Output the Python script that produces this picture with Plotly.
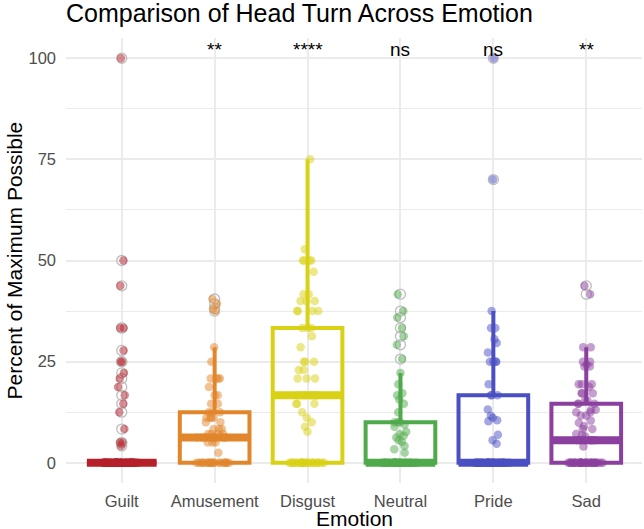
import numpy as np
import plotly.graph_objects as go

categories = ["Guilt", "Amusement", "Disgust", "Neutral", "Pride", "Sad"]
significance = ["", "**", "****", "ns", "ns", "**"]
colors = ["#B5202A", "#E2862C", "#D9D116", "#4FAA4C", "#4A4FC2", "#8B3F9E"]

# frequency tables (value, count)
guilt_values = [0, 4.17, 5, 8.33, 12.5, 14.58, 16.67, 18.75, 20.83, 22.22, 25, 27.78, 33.33, 43.75, 50, 100]
guilt_counts = [58, 1, 2, 1, 1, 1, 1, 1, 1, 1, 2, 1, 2, 1, 1, 1]

amusement_values = [0, 2.5, 5, 6.25, 7.14, 8.33, 10, 11.11, 12.5, 14.58, 16.67, 18.75, 20.83, 25, 28.57, 37.5, 38.1, 39.29, 40.48]
amusement_counts = [20, 1, 3, 8, 4, 3, 2, 4, 3, 2, 2, 1, 4, 1, 1, 1, 1, 1, 1]

disgust_values = [0, 7.69, 8.93, 10, 11.11, 12.5, 14.58, 16.67, 20.83, 22.92, 25, 28.57, 31.25, 33.33, 37.5, 40, 41.67, 47.22, 50, 52.78, 75]
disgust_counts = [24, 1, 1, 1, 1, 1, 3, 7, 3, 2, 3, 1, 1, 3, 4, 3, 2, 1, 4, 1, 1]

neutral_values = [0, 2.5, 3.33, 4.17, 5.21, 5.56, 6.25, 6.67, 7.14, 7.69, 8.93, 9.38, 10, 12.5, 14.58, 15.63, 16.67, 17.19, 19.44, 22.22, 25.64, 29.17, 31.25, 33.33, 35.9, 37.5, 41.67]
neutral_counts = [30, 1, 1, 1, 1, 1, 1, 1, 1, 1, 1, 1, 3, 1, 1, 1, 1, 1, 1, 1, 1, 1, 1, 1, 1, 1, 1]

pride_values = [0, 4.69, 5.56, 6.94, 10.29, 10.53, 11.11, 11.63, 13.16, 16.67, 19.44, 25, 27.27, 29.63, 30.56, 33.33, 37.5, 70, 100]
pride_counts = [36, 1, 1, 1, 1, 1, 1, 1, 1, 3, 1, 4, 1, 1, 1, 2, 1, 1, 1]

sad_values = [0, 4, 5.56, 6.5, 6.94, 7.14, 8.33, 9, 9.9, 10.42, 11.67, 12.5, 13.1, 14.58, 15.38, 17.19, 18.75, 19.44, 23.81, 24.24, 25, 28.57, 41.67, 43.75]
sad_counts = [34, 1, 6, 1, 1, 1, 2, 1, 1, 1, 2, 2, 2, 3, 2, 3, 1, 3, 2, 1, 2, 2, 1, 1]

tables = [
    (guilt_values, guilt_counts),
    (amusement_values, amusement_counts),
    (disgust_values, disgust_counts),
    (neutral_values, neutral_counts),
    (pride_values, pride_counts),
    (sad_values, sad_counts),
]

y_ticks = [0, 25, 50, 75, 100]
y_minor = [12.5, 37.5, 62.5, 87.5]

FONT = "Liberation Sans, Arial, Helvetica, sans-serif"

FIG_W, FIG_H = 644, 529
PLOT_L, PLOT_R, PLOT_T, PLOT_B = 66, 642, 38, 483
PLOT_W = PLOT_R - PLOT_L
PLOT_H = PLOT_B - PLOT_T


def rgba(hex_color, a):
    h = hex_color.lstrip("#")
    r, g, b = int(h[0:2], 16), int(h[2:4], 16), int(h[4:6], 16)
    return f"rgba({r},{g},{b},{a})"


fig = go.Figure()
BOX_W = 0.75

# boxes with grey open outliers
for i, cat in enumerate(categories):
    vals, cnts = tables[i]
    y = np.repeat(vals, cnts)
    fig.add_trace(go.Box(
        x=[cat] * len(y), y=y, width=BOX_W,
        boxpoints="outliers", jitter=0, pointpos=0,
        line=dict(color=colors[i], width=4),
        fillcolor="rgba(0,0,0,0)", whiskerwidth=0,
        marker=dict(symbol="circle-open", size=10, color="#BDBDBD",
                    line=dict(width=1.3, color="#BDBDBD")),
        quartilemethod="linear", showlegend=False, hoverinfo="skip",
    ))
    med = float(np.median(y))
    fig.add_shape(type="line", xref="x", yref="y",
                  x0=i - BOX_W / 2, x1=i + BOX_W / 2, y0=med, y1=med,
                  line=dict(color=colors[i], width=8), layer="between")

# jittered points on top
for i, cat in enumerate(categories):
    vals, cnts = tables[i]
    y = np.repeat(vals, cnts)
    fig.add_trace(go.Box(
        x=[cat] * len(y), y=y, width=0.4,
        boxpoints="all", jitter=1, pointpos=0,
        line=dict(color="rgba(0,0,0,0)", width=0),
        fillcolor="rgba(0,0,0,0)", whiskerwidth=0,
        marker=dict(color=rgba(colors[i], 0.5), size=8.5),
        showlegend=False, hoverinfo="y",
    ))

for i, cat in enumerate(categories):
    if significance[i]:
        fig.add_annotation(x=cat, y=102.2, text=significance[i], showarrow=False,
                           xref="x", yref="y", yanchor="middle",
                           font=dict(size=19, color="black", family=FONT))

# axis titles
fig.add_annotation(text="Emotion", xref="paper", yref="paper", x=0.5,
                   y=-35.5 / PLOT_H, xanchor="center", yanchor="middle",
                   showarrow=False, font=dict(size=21, color="black", family=FONT))
fig.add_annotation(text="Percent of Maximum Possible", xref="paper", yref="paper",
                   x=-(PLOT_L - 14) / PLOT_W, y=0.5, xanchor="center", yanchor="middle",
                   textangle=-90, showarrow=False,
                   font=dict(size=21, color="black", family=FONT))

fig.update_layout(
    template="none",
    width=FIG_W, height=FIG_H,
    margin=dict(l=PLOT_L, r=FIG_W - PLOT_R, t=PLOT_T, b=FIG_H - PLOT_B),
    paper_bgcolor="white", plot_bgcolor="white",
    font=dict(family=FONT, color="#4D4D4D"),
    boxmode="overlay", showlegend=False,
    title=dict(text="Comparison of Head Turn Across Emotion", x=0, xref="paper",
               xanchor="left", y=1 - 13.5 / FIG_H, yref="container", yanchor="middle",
               font=dict(size=25, color="black", family=FONT)),
)
fig.update_xaxes(
    type="category", categoryorder="array", categoryarray=categories,
    range=[-0.6, 5.6], showgrid=True, gridcolor="#EBEBEB", gridwidth=1.6,
    zeroline=False, showline=False, ticks="", ticklabelstandoff=6,
    tickfont=dict(size=16.5, color="#4D4D4D", family=FONT),
    automargin=False,
)
fig.update_yaxes(
    range=[-5, 105], tickmode="array", tickvals=y_ticks,
    showgrid=True, gridcolor="#EBEBEB", gridwidth=1.6,
    minor=dict(tickmode="array", tickvals=y_minor, showgrid=True, gridcolor="#EBEBEB", gridwidth=0.8),
    zeroline=False, showline=False, ticks="", ticklabelstandoff=9,
    tickfont=dict(size=16.5, color="#4D4D4D", family=FONT),
    automargin=False,
)

# remove the page's default 8px body margin so the figure fills the window
fig.write_html("out.html", config={"displayModeBar": False},
               post_script="document.body.style.margin='0px';")
